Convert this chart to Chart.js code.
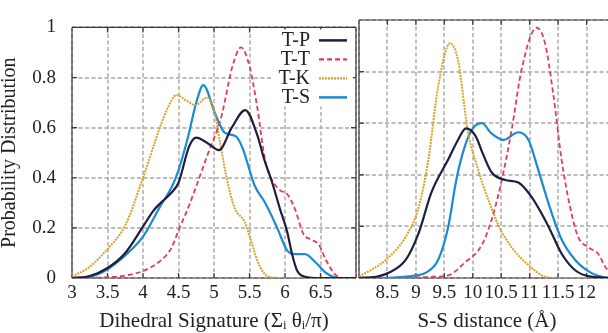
<!DOCTYPE html>
<html>
<head>
<meta charset="utf-8">
<script src="https://cdn.jsdelivr.net/npm/chart.js@4/dist/chart.umd.min.js"></script>
<style>
  html, body { margin: 0; padding: 0; background: #fff; }
  body { width: 608px; height: 333px; overflow: hidden; position: relative; }
  canvas { position: absolute; top: 0; }
  #dih { left: 0; }
  #ss { left: 349px; }
</style>
</head>
<body>
<canvas id="dih" width="360" height="333"></canvas>
<canvas id="ss" width="270" height="333"></canvas>
<script>
// Series labels
const seriesNames = ['T-P', 'T-T', 'T-K', 'T-S'];

// Tick labels
const dihTickLabels = ['3', '3.5', '4', '4.5', '5', '5.5', '6', '6.5', ''];
const ssTickLabels = ['', '8.5', '9', '9.5', '10', '10.5', '11', '11.5', '12', ''];
const probTickLabels = ['0', '0.2', '0.4', '0.6', '0.8', '1'];

// Dihedral signature panel
const tpDihX = [3, 3.25, 3.5, 3.75, 4, 4.15, 4.25, 4.4, 4.5, 4.65, 4.75, 4.9, 5.07, 5.25, 5.44, 5.61, 5.7, 5.82, 5.93, 6.03, 6.1, 6.17, 6.28, 6.5, 7];
const tpDihY = [0, 0.008, 0.04, 0.10, 0.205, 0.27, 0.30, 0.34, 0.38, 0.525, 0.56, 0.54, 0.51, 0.60, 0.67, 0.57, 0.48, 0.38, 0.275, 0.185, 0.095, 0.03, 0.005, 0, 0];
const ttDihX = [3, 3.5, 3.75, 4, 4.25, 4.4, 4.5, 4.65, 4.78, 4.92, 5.1, 5.26, 5.38, 5.5, 5.61, 5.72, 5.8, 5.93, 6.03, 6.14, 6.26, 6.35, 6.47, 6.58, 6.72, 6.85, 7];
const ttDihY = [0, 0.003, 0.01, 0.028, 0.07, 0.12, 0.19, 0.29, 0.39, 0.50, 0.64, 0.845, 0.92, 0.845, 0.68, 0.47, 0.40, 0.35, 0.335, 0.275, 0.175, 0.155, 0.135, 0.07, 0.01, 0, 0];
const tkDihX = [3, 3.25, 3.5, 3.75, 4, 4.25, 4.35, 4.47, 4.6, 4.74, 4.9, 5.0, 5.08, 5.17, 5.29, 5.43, 5.51, 5.61, 5.7, 5.8, 6, 7];
const tkDihY = [0.005, 0.045, 0.116, 0.21, 0.40, 0.61, 0.68, 0.73, 0.71, 0.69, 0.72, 0.67, 0.55, 0.41, 0.28, 0.225, 0.16, 0.07, 0.02, 0.003, 0, 0];
const tsDihX = [3, 3.25, 3.5, 3.75, 4, 4.25, 4.4, 4.5, 4.64, 4.75, 4.85, 5.01, 5.15, 5.31, 5.4, 5.47, 5.57, 5.72, 5.89, 6.03, 6.14, 6.28, 6.44, 6.58, 6.75, 7];
const tsDihY = [0, 0.005, 0.035, 0.09, 0.165, 0.29, 0.36, 0.43, 0.57, 0.70, 0.77, 0.66, 0.58, 0.565, 0.52, 0.46, 0.37, 0.30, 0.20, 0.11, 0.095, 0.095, 0.06, 0.02, 0, 0];

// S-S distance panel
const tpSsX = [8, 8.3, 8.52, 8.82, 9.05, 9.27, 9.57, 9.74, 9.88, 10.05, 10.18, 10.33, 10.57, 10.8, 11.03, 11.33, 11.56, 11.8, 12.08, 12.5];
const tpSsY = [0, 0.005, 0.02, 0.07, 0.175, 0.33, 0.46, 0.535, 0.58, 0.55, 0.48, 0.41, 0.38, 0.37, 0.315, 0.20, 0.095, 0.03, 0.005, 0];
const ttSsX = [8, 9, 9.3, 9.57, 9.86, 10.15, 10.33, 10.51, 10.68, 10.86, 11.12, 11.27, 11.41, 11.56, 11.71, 11.85, 12.02, 12.2, 12.34, 12.5];
const ttSsY = [0, 0.002, 0.005, 0.01, 0.06, 0.125, 0.225, 0.38, 0.57, 0.81, 0.97, 0.91, 0.72, 0.46, 0.275, 0.16, 0.12, 0.095, 0.04, 0.01];
const tkSsX = [8, 8.47, 8.82, 9.05, 9.22, 9.39, 9.6, 9.74, 9.92, 10.08, 10.18, 10.28, 10.46, 10.68, 10.98, 11.27, 11.5, 12.5];
const tkSsY = [0.005, 0.07, 0.16, 0.275, 0.46, 0.74, 0.91, 0.845, 0.56, 0.43, 0.36, 0.30, 0.20, 0.12, 0.05, 0.005, 0, 0];
const tsSsX = [8, 8.6, 9.0, 9.17, 9.39, 9.57, 9.71, 9.86, 10.0, 10.16, 10.33, 10.54, 10.8, 10.98, 11.15, 11.33, 11.56, 11.8, 12.08, 12.3, 12.5];
const tsSsY = [0, 0.002, 0.01, 0.02, 0.07, 0.20, 0.38, 0.51, 0.58, 0.60, 0.56, 0.535, 0.565, 0.535, 0.42, 0.29, 0.15, 0.07, 0.02, 0.003, 0];

const SERIF = '"Liberation Serif", "DejaVu Serif", serif';
const INK = '#222';
const GRID = '#a6a6a6';

const lineStyles = [
  { borderColor: '#1d1f3f', borderWidth: 2.2, borderDash: [] },
  { borderColor: '#e53a5f', borderWidth: 1.8, borderDash: [5, 3] },
  { borderColor: '#dba126', borderWidth: 2, borderDash: [2, 1] },
  { borderColor: '#1b8ad0', borderWidth: 2.2, borderDash: [] }
];

function pts(xs, ys) {
  return xs.map((x, i) => ({ x, y: ys[i] }));
}

function makeDatasets(pairs) {
  return pairs.map((p, i) => ({
    label: seriesNames[i],
    data: pts(p[0], p[1]),
    ...lineStyles[i],
    pointRadius: 0,
    fill: false,
    cubicInterpolationMode: 'monotone'
  }));
}

// Dashed grid, frame and inward ticks
const framePlugin = {
  id: 'frame',
  beforeDatasetsDraw(chart, args, opts) {
    const { ctx, chartArea: a, scales } = chart;
    const len = 5;
    const xs = scales.x.ticks.map((t) => scales.x.getPixelForValue(t.value));
    const ys = scales.y.ticks.map((t) => scales.y.getPixelForValue(t.value));
    ctx.save();
    ctx.strokeStyle = GRID;
    ctx.lineWidth = 1.4;
    ctx.setLineDash([4, 2.5]);
    ctx.lineDashOffset = 0;
    xs.forEach((px) => {
      const gx = Math.round(px);
      ctx.beginPath();
      ctx.moveTo(gx, a.top); ctx.lineTo(gx, a.bottom);
      ctx.stroke();
    });
    ys.forEach((py) => {
      const gy = Math.round(py);
      ctx.beginPath();
      ctx.moveTo(a.left, gy); ctx.lineTo(a.right, gy);
      ctx.stroke();
    });

    ctx.setLineDash([]);
    ctx.strokeStyle = '#3a3a3a';
    ctx.lineWidth = 1.2;
    ctx.beginPath();
    xs.forEach((px) => {
      ctx.moveTo(px, a.top); ctx.lineTo(px, a.top + len);
      ctx.moveTo(px, a.bottom); ctx.lineTo(px, a.bottom - len);
    });
    ys.forEach((py) => {
      if (opts.left) { ctx.moveTo(a.left, py); ctx.lineTo(a.left + len, py); }
      if (opts.right) { ctx.moveTo(a.right, py); ctx.lineTo(a.right - len, py); }
    });
    const ext = opts.right ? 0 : 20;
    ctx.moveTo(a.left, a.top); ctx.lineTo(a.right + ext, a.top);
    ctx.moveTo(a.left, a.bottom); ctx.lineTo(a.right + ext, a.bottom);
    ctx.moveTo(a.left, a.top); ctx.lineTo(a.left, a.bottom);
    if (opts.right) { ctx.moveTo(a.right, a.top); ctx.lineTo(a.right, a.bottom); }
    ctx.stroke();
    ctx.restore();
  }
};

// Legend box inside the top right corner
const legendPlugin = {
  id: 'boxLegend',
  afterDatasetsDraw(chart, args, opts) {
    if (!opts.show) return;
    const { ctx, chartArea: a } = chart;
    const textRight = a.right - 46;
    const lineX0 = a.right - 37, lineX1 = a.right - 9;
    const top = a.top + 13, step = 19;
    ctx.save();
    ctx.fillStyle = '#fff';
    ctx.fillRect(a.right - 83, a.top + 2, 80, 77);
    ctx.font = '20px ' + SERIF;
    ctx.textAlign = 'right';
    ctx.textBaseline = 'middle';
    chart.data.datasets.forEach((ds, i) => {
      const y = top + i * step;
      ctx.fillStyle = INK;
      ctx.fillText(ds.label, textRight, y);
      ctx.strokeStyle = ds.borderColor;
      ctx.lineWidth = ds.borderWidth + 0.3;
      ctx.setLineDash(ds.borderDash);
      ctx.beginPath();
      ctx.moveTo(lineX0, y); ctx.lineTo(lineX1, y);
      ctx.stroke();
    });
    ctx.restore();
  }
};

function xScale(min, max, labels, title) {
  return {
    type: 'linear', min, max,
    ticks: {
      stepSize: 0.5, autoSkip: false, maxRotation: 0, color: INK, padding: 4,
      font: { family: SERIF, size: 19 },
      callback: (v, i) => labels[i] ?? ''
    },
    grid: { display: false, drawTicks: false },
    border: { display: false },
    title: {
      display: true, text: title, color: INK,
      font: { family: SERIF, size: 21, lineHeight: 1 },
      padding: { top: 0, bottom: 1 }
    },
    afterFit: (s) => { s.height = 55; }
  };
}

function yScale(showLabels) {
  return {
    min: 0, max: 1,
    ticks: {
      stepSize: 0.2, display: showLabels, color: INK, padding: 16,
      font: { family: SERIF, size: 19 },
      callback: (v, i) => probTickLabels[i] ?? ''
    },
    grid: { display: false, drawTicks: false },
    border: { display: false },
    title: {
      display: showLabels, text: 'Probability Distribution', color: INK,
      font: { family: SERIF, size: 20, lineHeight: 1 },
      padding: { top: 0, bottom: 0 }
    },
    afterFit: (s) => { s.width = showLabels ? 72 : 10; }
  };
}

function baseOptions() {
  return {
    responsive: false,
    animation: false,
    devicePixelRatio: 1,
    plugins: { legend: { display: false }, tooltip: { enabled: false } }
  };
}

const dihOpts = baseOptions();
dihOpts.layout = { padding: { top: 20, right: 1, left: 0, bottom: 0 } };
dihOpts.scales = {
  x: xScale(3, 7, dihTickLabels, 'Dihedral Signature (Σᵢ θᵢ/π)'),
  y: yScale(true)
};
dihOpts.plugins.frame = { left: true, right: true };
dihOpts.plugins.boxLegend = { show: true };

new Chart(document.getElementById('dih'), {
  type: 'line',
  data: {
    datasets: makeDatasets([[tpDihX, tpDihY], [ttDihX, ttDihY], [tkDihX, tkDihY], [tsDihX, tsDihY]])
  },
  options: dihOpts,
  plugins: [framePlugin, legendPlugin]
});

const ssOpts = baseOptions();
ssOpts.layout = { padding: { top: 20, right: 2, left: 0, bottom: 0 } };
ssOpts.scales = {
  x: xScale(8, 12.5, ssTickLabels, 'S-S distance (Å)'),
  y: yScale(false)
};
ssOpts.plugins.frame = { left: true, right: false };
ssOpts.plugins.boxLegend = { show: false };

new Chart(document.getElementById('ss'), {
  type: 'line',
  data: {
    datasets: makeDatasets([[tpSsX, tpSsY], [ttSsX, ttSsY], [tkSsX, tkSsY], [tsSsX, tsSsY]])
  },
  options: ssOpts,
  plugins: [framePlugin, legendPlugin]
});
</script>
</body>
</html>
